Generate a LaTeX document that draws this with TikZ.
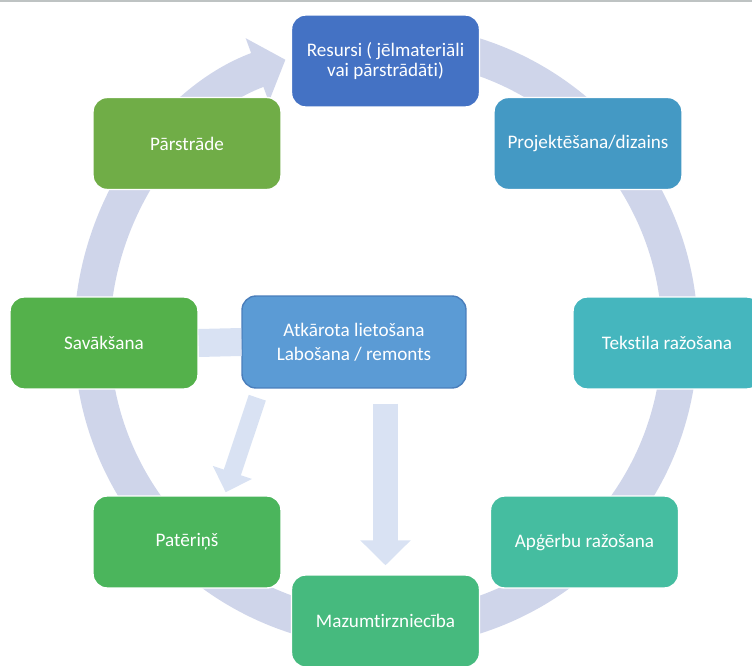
\documentclass[tikz,border=0pt]{standalone}
\usepackage{fontspec}
\setmainfont{Carlito}[Ligatures=NoCommon]
\usetikzlibrary{arrows.meta}
\definecolor{resc}{HTML}{4472C4}
\definecolor{projc}{HTML}{4499C4}
\definecolor{teksc}{HTML}{45B6BE}
\definecolor{apgc}{HTML}{45BDA0}
\definecolor{mazc}{HTML}{46BA7E}
\definecolor{patc}{HTML}{4BB55C}
\definecolor{savc}{HTML}{54B14B}
\definecolor{parc}{HTML}{70AD47}
\definecolor{reusec}{HTML}{5B9BD5}
\definecolor{reuseb}{HTML}{4A7EBB}
\definecolor{ringc}{HTML}{CFD5EA}
\definecolor{linkc}{HTML}{D9E2F3}
\definecolor{topc}{HTML}{BEC3C3}
\begin{document}
\begin{tikzpicture}[x=0.02cm, y=-0.02cm, line join=round,
	font=\fontsize{10.9}{13.6}\selectfont,
	box/.style={draw=white, line width=0.8pt, rounded corners=0.28cm, minimum width=3.76cm, minimum height=1.84cm, text=white, align=center, inner sep=0pt},
	ring/.style={draw=ringc, line width=0.72cm},
	link/.style={draw=linkc}]
	\def\r{294} % radius of ring
	\useasboundingbox (0,0) rectangle (752,666);
	\clip (0,0) rectangle (752,666);
	\fill[topc] (0,0) rectangle (752,2);
	\coordinate (hub) at (386,336);
	\draw[ring, -{Triangle[width=1.32cm,length=0.6cm]}] (hub) ++(-85:\r) arc[start angle=-85, end angle=250, radius=\r];
	% steps of the cycle
	\node[box, fill=resc, font=\fontsize{10.9}{11}\selectfont] (res) at (385.5,61) {Resursi ( jēlmateriāli\\vai pārstrādāti)};
	\node[box, fill=projc] (proj) at (588,143.5) {Projektēšana/dizains};
	\node[box, fill=teksc] (teks) at (667,343) {Tekstila ražošana};
	\node[box, fill=apgc] (apg) at (584.5,542) {Apģērbu ražošana};
	\node[box, fill=mazc] (maz) at (385.5,621) {Mazumtirzniecība};
	\node[box, fill=patc] (pat) at (187,542) {Patēriņš};
	\node[box, fill=savc] (sav) at (104,343) {Savākšana};
	\node[box, fill=parc] (par) at (187,143.5) {Pārstrāde};
	\node[box, fill=reusec, draw=reuseb, minimum width=4.48cm] (reuse) at (354,342) {Atkārota lietošana\\Labošana / remonts};
	% inner links
	\draw[link, line width=0.56cm] (sav.east) -- (reuse.west);
	\draw[link, line width=0.36cm, -{Triangle[width=0.8cm,length=0.42cm]}] ([xshift=0.32cm,yshift=-0.18cm]reuse.south west) -- ([xshift=-1.12cm,yshift=0.06cm]pat.north east);
	\draw[link, line width=0.5cm, -{Triangle[width=0.98cm,length=0.5cm]}, shorten <=0.3cm, shorten >=0.18cm] (reuse.south -| maz.north) -- (maz.north);
\end{tikzpicture}
\end{document}
